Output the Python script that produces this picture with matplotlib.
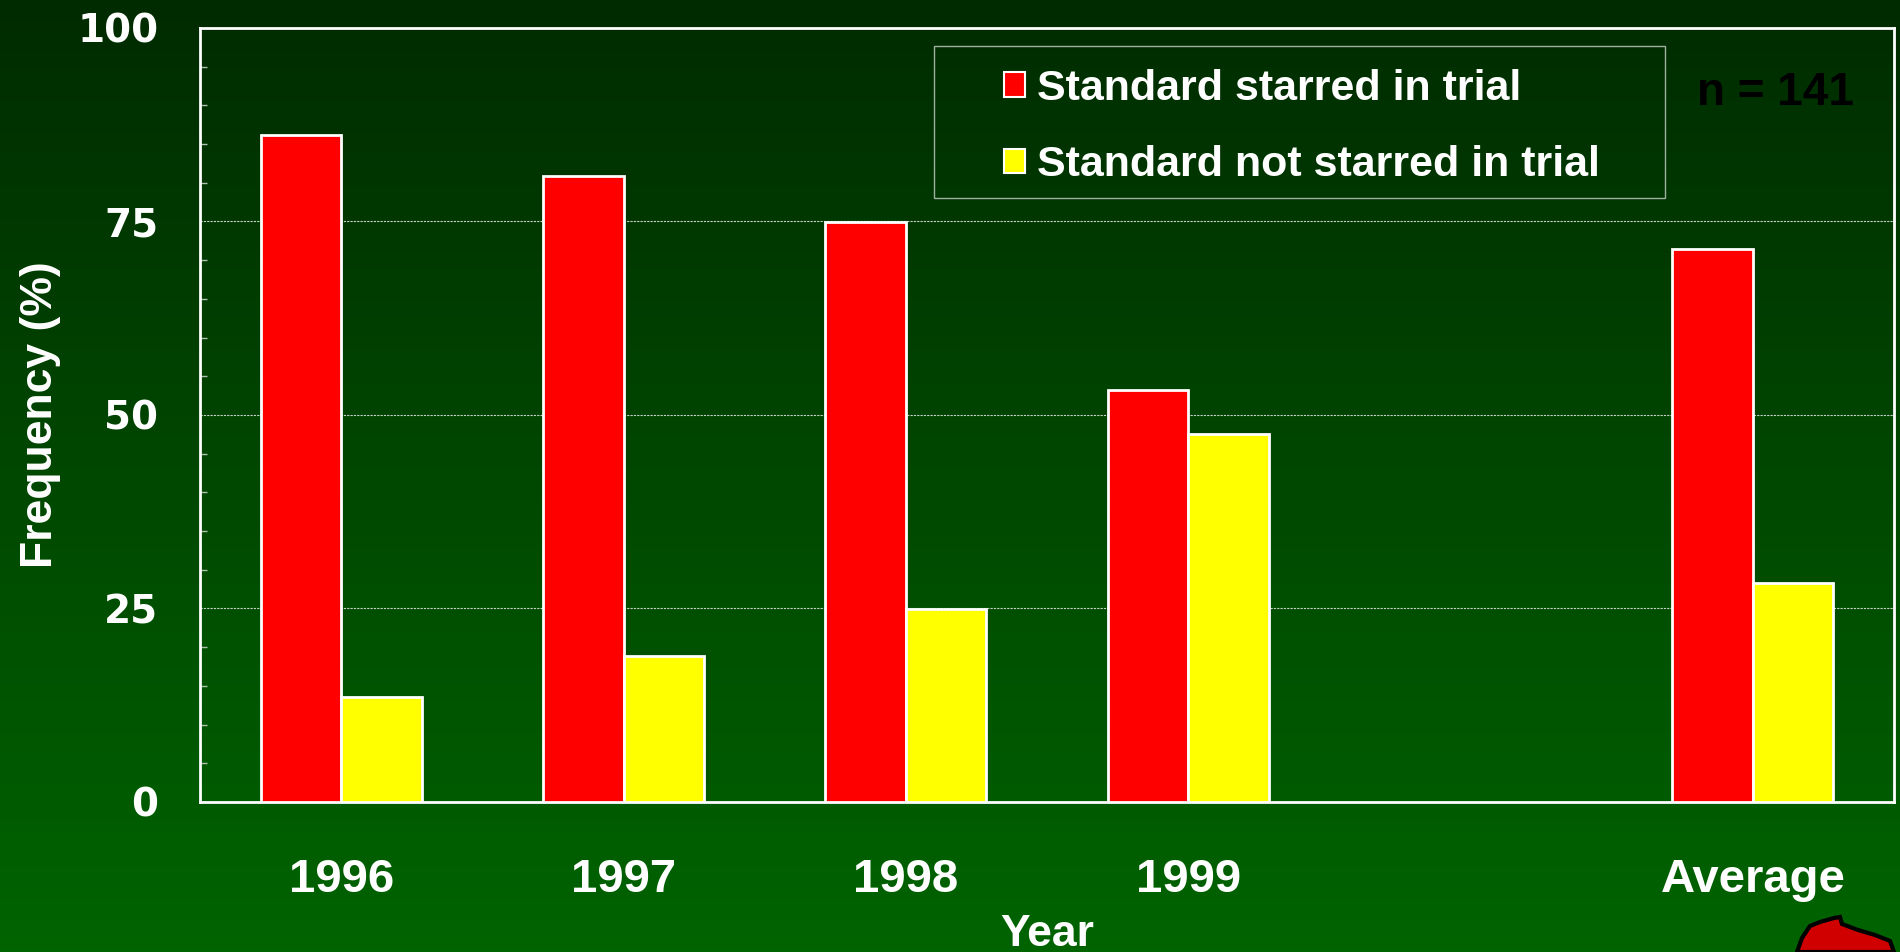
import matplotlib
matplotlib.use("Agg")
import matplotlib.pyplot as plt
import numpy as np
from matplotlib.patches import Rectangle, Polygon, Patch
from matplotlib.colors import LinearSegmentedColormap

plt.rcParams['font.family'] = ['Liberation Sans', 'DejaVu Sans']
plt.rcParams['font.weight'] = 'bold'

# data
categories = ['1996', '1997', '1998', '1999', 'Average']
positions = [0, 1, 2, 3, 5]   # gap before Average
starred = [86.2, 80.9, 74.9, 53.2, 71.5]
not_starred = [13.6, 18.9, 24.9, 47.6, 28.3]
series_names = ['Standard starred in trial', 'Standard not starred in trial']
n_label = 'n = 141'

fig = plt.figure(figsize=(19, 9.52), dpi=100)

# gradient background
bg = fig.add_axes([0, 0, 1, 1], zorder=-10)
cmap = LinearSegmentedColormap.from_list('bg', ['#002b00', '#006400'])
bg.imshow(np.linspace(0, 1, 256).reshape(-1, 1), aspect='auto', cmap=cmap,
          extent=[0, 1, 0, 1])
bg.axis('off')

ax = fig.add_axes([0.1053, 0.1576, 0.8915, 0.8130])
ax.set_facecolor('none')

w = 0.285
x = np.array(positions)
ax.bar(x - w / 2, starred, w, color='#ff0000', edgecolor='white', linewidth=2, zorder=3)
ax.bar(x + w / 2, not_starred, w, color='#ffff00', edgecolor='white', linewidth=2, zorder=3)

ax.set_xlim(-0.5, 5.5)
ax.set_ylim(0, 100)
ax.set_xticks(positions)
ax.set_xticklabels(categories)
ax.set_yticks([0, 25, 50, 75, 100])
ax.set_yticks(np.arange(0, 101, 5), minor=True)

for s in ax.spines.values():
    s.set_color('white')
    s.set_linewidth(2)

ax.tick_params(axis='x', length=0, pad=40, labelsize=34, labelcolor='white')
ax.tick_params(axis='y', which='both', direction='in', length=5, width=1,
               color='#b0c0b0', labelcolor='white', pad=30)
ax.tick_params(axis='y', which='major', length=0)
for lab in ax.get_xticklabels():
    lab.set_fontweight('bold')
for lab in ax.get_yticklabels():
    lab.set_fontfamily('DejaVu Sans')
    lab.set_fontweight('bold')
    lab.set_fontsize(28)

ax.yaxis.grid(True, which='major', linestyle=(0, (2, 1)), color='#c8d0c8', linewidth=0.8)
ax.set_axisbelow(True)

ax.set_ylabel('Frequency (%)', fontsize=32, color='white', fontweight='bold', labelpad=12)
ax.set_xlabel('Year', fontsize=32, color='white', fontweight='bold', labelpad=9)

# legend
ax.add_patch(Rectangle((0.433, 0.780), 0.432, 0.197, transform=ax.transAxes,
                       fill=False, edgecolor='#a0b0a0', linewidth=1, zorder=4))
handles = [Patch(facecolor='#ff0000', edgecolor='white', linewidth=1.5),
           Patch(facecolor='#ffff00', edgecolor='white', linewidth=1.5)]
leg = ax.legend(handles, series_names, loc='upper left', bbox_to_anchor=(0.4746, 0.947),
                frameon=False, fontsize=31, handlelength=0.5, handleheight=0.5,
                handletextpad=0.26, labelspacing=0.84, borderpad=0, borderaxespad=0)
for t in leg.get_texts():
    t.set_color('white')
    t.set_fontweight('bold')

ax.text(0.930, 0.916, n_label, transform=ax.transAxes, ha='center', va='center',
        fontsize=33, fontweight='bold', color='black')

# decorative blob bottom right
blob = [(1797, 952), (1802, 938), (1810, 926), (1820, 922), (1834, 918), (1840, 917),
        (1842, 924), (1858, 930), (1875, 935), (1890, 941), (1894, 952)]
blob = [(px / 1900, 1 - py / 952) for px, py in blob]
fig.patches.append(Polygon(blob, closed=True, transform=fig.transFigure,
                           facecolor='#d00000', edgecolor='black', linewidth=3))

fig.savefig('out.png', dpi=100)
